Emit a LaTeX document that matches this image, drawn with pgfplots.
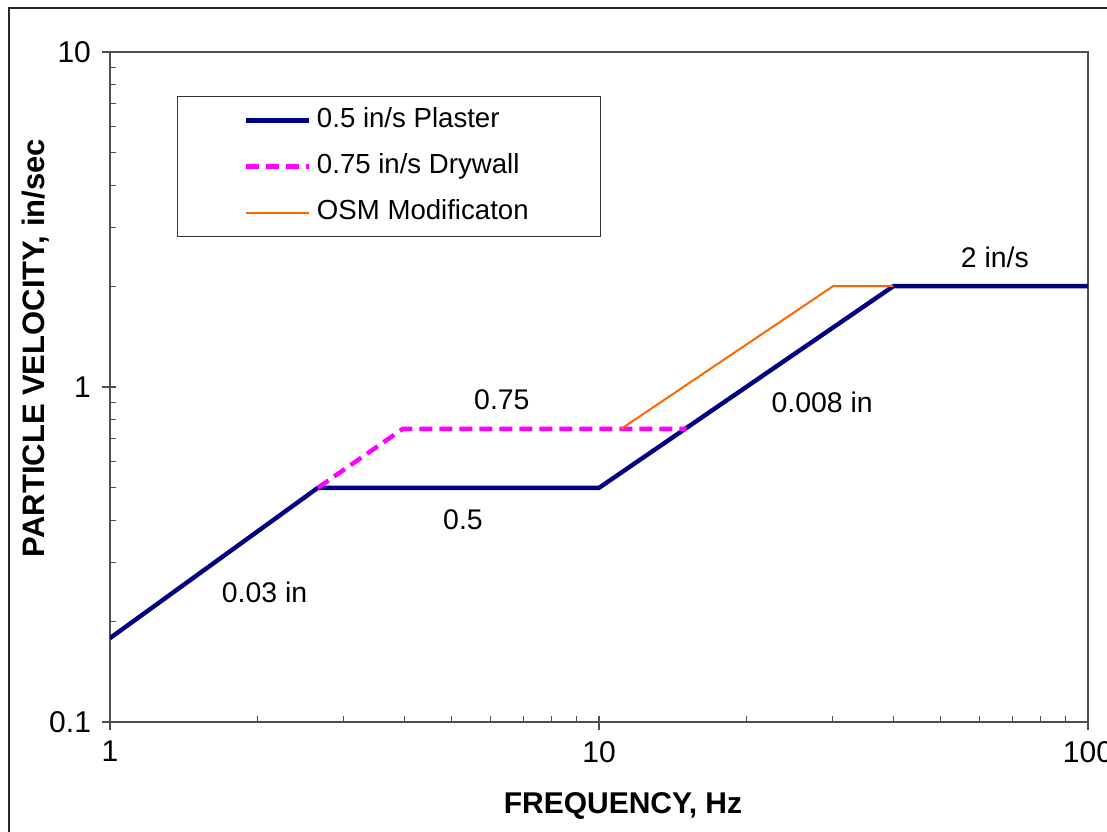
\documentclass[border=0pt]{standalone}
\usepackage{pgfplots}
\pgfplotsset{compat=1.18}
\usepackage{fontspec}
\setmainfont{Liberation Sans}
\definecolor{plaster}{RGB}{0,0,128}
\definecolor{drywall}{RGB}{255,0,255}
\definecolor{osm}{RGB}{255,102,0}
\definecolor{axisgray}{RGB}{80,80,80}

\begin{document}
\begin{tikzpicture}
% picture area matches the cropped reference (frame runs off right and bottom)
\useasboundingbox (-55pt,-54.5pt) rectangle (498.5pt,361pt);
\clip (-55pt,-54.5pt) rectangle (498.5pt,361pt);
\draw[line width=1.4pt,black!85] (-50.5pt,-80pt) -- (-50.5pt,357pt) -- (530pt,357pt);

\begin{axis}[
  at={(0,0)}, anchor=south west,
  width=489pt, height=335pt, scale only axis,
  xmode=log, ymode=log,
  xmin=1, xmax=100, ymin=0.1, ymax=10,
  xtick={1,10,100}, xticklabels={1,10,100},
  ytick={0.1,1,10}, yticklabels={0.1,1,10},
  tick pos=left,
  tick align=inside,
  major tick length=4pt,
  minor tick length=3pt,
  major x tick style={yshift=-4pt},
  major y tick style={xshift=-4pt},
  every tick/.style={axisgray,line width=0.6pt},
  axis line style={axisgray,line width=0.9pt},
  ticklabel style={font=\fontsize{15}{18}\selectfont},
  xticklabel style={yshift=-6pt},
  yticklabel style={xshift=-6pt},
  legend style={
    at={(0.0685,0.9343)}, anchor=north west,
    draw=black!80, line width=0.6pt,
    inner xsep=33pt, inner ysep=3.5pt,
    row sep=6pt,
    font=\fontsize{13.8}{16}\selectfont,
    nodes={text height=10pt, text depth=3pt, inner ysep=2pt, inner xsep=3pt},
  },
  legend cell align=left,
  legend image code/.code={\draw[#1] (0pt,0pt) -- (31.5pt,0pt);},
]
\addplot[plaster, line width=2.2pt, line join=round]
  coordinates {(1,0.178) (2.66,0.5) (10,0.5) (40,2) (100,2)};
\addlegendentry{0.5 in/s Plaster}

\addplot[drywall, line width=2.2pt, dash pattern=on 6.5pt off 3.5pt]
  coordinates {(2.66,0.5) (3.97,0.75) (15.1,0.75)};
\addlegendentry{0.75 in/s Drywall}

\addplot[osm, line width=1pt]
  coordinates {(11.1,0.75) (30.1,2) (40,2)};
\addlegendentry{OSM Modificaton}

\node[font=\fontsize{14.2}{16}\selectfont] at (axis cs:6.33,0.915) {0.75};
\node[font=\fontsize{14.2}{16}\selectfont] at (axis cs:5.27,0.401) {0.5};
\node[font=\fontsize{14.2}{16}\selectfont] at (axis cs:2.07,0.243) {0.03 in};
\node[font=\fontsize{14.2}{16}\selectfont] at (axis cs:28.6,0.902) {0.008 in};
\node[font=\fontsize{14.2}{16}\selectfont] at (axis cs:64.5,2.43) {2 in/s};
\end{axis}

\node[font=\bfseries\fontsize{15}{18}\selectfont] at (256.5pt,-42pt) {FREQUENCY, Hz};
\node[font=\bfseries\fontsize{15.5}{18}\selectfont,rotate=90] at (-37pt,187pt) {PARTICLE VELOCITY, in/sec};
\end{tikzpicture}
\end{document}
